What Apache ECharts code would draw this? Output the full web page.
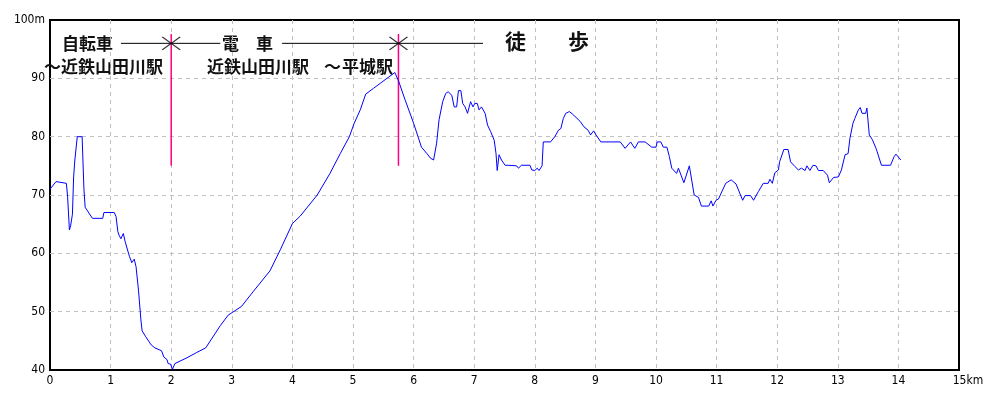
<!DOCTYPE html>
<html>
<head>
<meta charset="utf-8">
<script src="https://cdn.jsdelivr.net/npm/echarts@6/dist/echarts.min.js"></script>
<style>
  html, body { margin: 0; padding: 0; background: #fff; }
  #chart { width: 1000px; height: 400px; }
</style>
</head>
<body>
<div id="chart"></div>
<script>
// 距離 (km) と標高 (m)
const distKm = [
  0.0, 0.02, 0.1, 0.27, 0.29, 0.32, 0.34, 0.37, 0.39, 0.41, 0.45, 0.53, 0.56, 0.58, 0.70, 0.87, 0.89,
  1.06, 1.09, 1.12, 1.14, 1.17, 1.21, 1.24, 1.31, 1.35, 1.39, 1.42, 1.46, 1.50, 1.52, 1.58, 1.61, 1.67,
  1.73, 1.84, 1.88, 1.93, 1.95, 1.99, 2.02, 2.06, 2.26, 2.42, 2.57, 2.81, 2.94, 3.16, 3.35, 3.63, 3.80,
  4.0, 4.13, 4.41, 4.62, 4.79, 4.94, 5.02, 5.12, 5.21, 5.34, 5.69, 5.75, 5.86, 6.0, 6.13, 6.22, 6.28,
  6.33, 6.38, 6.42, 6.48, 6.53, 6.57, 6.63, 6.67, 6.71, 6.74, 6.78, 6.81, 6.85, 6.89, 6.94, 6.98, 7.01,
  7.05, 7.08, 7.12, 7.18, 7.22, 7.27, 7.33, 7.36, 7.38, 7.41, 7.45, 7.51, 7.56, 7.59, 7.70, 7.73, 7.78,
  7.92, 7.95, 8.0, 8.04, 8.07, 8.12, 8.14, 8.26, 8.33, 8.39, 8.43, 8.47, 8.51, 8.57, 8.62, 8.75, 8.81,
  8.88, 8.92, 8.97, 9.01, 9.09, 9.41, 9.49, 9.58, 9.65, 9.71, 9.82, 9.93, 10.0, 10.02, 10.08, 10.12,
  10.18, 10.22, 10.26, 10.34, 10.37, 10.46, 10.55, 10.63, 10.70, 10.75, 10.87, 10.91, 10.94, 10.99,
  11.03, 11.15, 11.24, 11.32, 11.43, 11.47, 11.56, 11.61, 11.69, 11.77, 11.85, 11.88, 11.92, 11.96,
  12.02, 12.04, 12.11, 12.18, 12.22, 12.29, 12.35, 12.40, 12.46, 12.49, 12.54, 12.59, 12.64, 12.68,
  12.76, 12.83, 12.86, 12.93, 13.01, 13.06, 13.12, 13.17, 13.20, 13.25, 13.28, 13.34, 13.37, 13.40,
  13.46, 13.48, 13.52, 13.57, 13.63, 13.65, 13.72, 13.87, 13.93, 13.96, 14.04
]
const elevM = [
  71, 71, 72.3, 72, 69.8, 64, 64.7, 66.7, 73.1, 76, 80, 80, 71, 67.9, 66, 66, 67,
  67, 66.3, 63.7, 63.1, 62.5, 63.4, 62, 59.5, 58.4, 59, 57.7, 53.7, 48.6, 46.7, 45.7, 45.8, 44.3,
  43.8, 43.3, 42.2, 41.8, 41.1, 41, 40.1, 41.1, 42.1, 43, 43.8, 47.6, 49.4, 50.9, 53.4, 57, 60.6,
  65.1, 66.4, 70, 73.7, 77.1, 80, 82.3, 84.6, 87.3, 88.3, 91, 89.6, 86.3, 82.3, 78.2, 77.1, 76.3,
  76, 78.9, 82.9, 86, 87.4, 87.7, 87.1, 85.1, 85.1, 87.9, 87.9, 85.7, 85.1, 84, 86, 85.1, 85.7,
  85.7, 84.6, 85.1, 84, 82, 80.9, 79.4, 77.1, 74.2, 76.9, 76, 75.1, 75.1, 75.4, 75, 74.6, 75.1,
  75.1, 74.3, 74.2, 74.6, 74.2, 75, 79.1, 79.1, 80, 81.1, 81.4, 83.1, 84, 84.3, 83.9, 82.6, 81.7,
  81.1, 80.3, 81, 80.3, 79.1, 79.1, 78, 79.1, 78, 79.1, 79.1, 78.2, 78.2, 79.1, 79.1, 78.2,
  78.2, 76.6, 74.6, 73.7, 74.6, 72.1, 75, 70, 69.6, 68.1, 68.1, 69, 68.1, 69.1,
  69.3, 72, 72.6, 71.9, 69.1, 69.9, 69.9, 69.1, 70.6, 72, 72, 72.7, 72, 73.8,
  74.3, 75.7, 77.8, 77.8, 75.7, 74.9, 74.3, 74.6, 74.2, 75, 74.2, 75.1, 75, 74.2,
  74.2, 73.4, 72.1, 73, 73.1, 74.3, 76.9, 77.1, 79.7, 82.3, 83.1, 84.6, 85, 84,
  84, 84.9, 80.3, 79.5, 78, 77.4, 75.1, 75.1, 76.6, 77, 76
]

// 区間の区切り (乗り換え地点, km)
const breakKm = [2, 5.75]
const breakTop = 97.6
const breakBottom = 75
// 区間表示の横線
const legendLevel = 96
const legendSegs = [[1.17, 2.81], [3.83, 7.145]]

const chart = echarts.init(document.getElementById('chart'))

const profile = distKm.map((d, i) => [d, elevM[i]])

const series = [{
  type: 'line',
  data: profile,
  showSymbol: false,
  symbol: 'none',
  lineStyle: { color: '#0000ff', width: 1 },
  z: 5
}]

breakKm.forEach(k => {
  series.push({
    type: 'line',
    data: [[k, breakBottom], [k, breakTop]],
    symbol: 'none',
    lineStyle: { color: '#ff0080', width: 1.5 },
    z: 4
  })
})

legendSegs.forEach(s => {
  series.push({
    type: 'line',
    data: [[s[0], legendLevel], [s[1], legendLevel]],
    symbol: 'none',
    lineStyle: { color: '#000', width: 1 },
    z: 4
  })
})

series.push({
  type: 'scatter',
  data: breakKm.map(k => [k, legendLevel]),
  symbol: 'path://M0,0L18,13M0,13L18,0',
  symbolSize: [18, 13],
  itemStyle: { color: 'rgba(0,0,0,0)', borderColor: '#000', borderWidth: 1.2 },
  z: 6
})

const cjk = { fontFamily: 'Noto Sans CJK JP', fontWeight: 'bold', fill: '#111' }
function label(text, x, y, size) {
  return { type: 'text', left: x, top: y, style: Object.assign({ text: text, fontSize: size || 17 }, cjk) }
}

const tickFont = 'Liberation Sans Narrow, DejaVu Sans Condensed, sans-serif'

chart.setOption({
  animation: false,
  grid: {
    left: 50, right: 41, top: 20, bottom: 30,
    show: true, borderColor: '#000', borderWidth: 2, backgroundColor: '#fff'
  },
  xAxis: {
    type: 'value', min: 0, max: 15, interval: 1,
    axisLine: { show: false },
    axisTick: { show: false },
    splitLine: { showMinLine: false, showMaxLine: false, lineStyle: { color: '#c0c0c0', type: [4, 4], width: 1 } },
    axisLabel: {
      color: '#000', fontSize: 12, margin: 5, fontFamily: tickFont,
      formatter: v => v === 15 ? '{u|15km}' : String(v),
      rich: { u: { padding: [0, 0, 0, 18], fontSize: 12, color: '#000', fontFamily: tickFont } }
    }
  },
  yAxis: {
    type: 'value', min: 40, max: 100, interval: 10,
    axisLine: { show: false },
    axisTick: { show: false },
    splitLine: { showMinLine: false, showMaxLine: false, lineStyle: { color: '#c0c0c0', type: [4, 4], width: 1 } },
    axisLabel: {
      color: '#000', fontSize: 12, margin: 5, fontFamily: tickFont,
      formatter: v => v === 100 ? '100m' : String(v)
    }
  },
  graphic: [
    label('自転車', 62, 35),
    label('～近鉄山田川駅', 44, 58),
    label('電\u3000車', 222, 35),
    label('近鉄山田川駅', 207, 58),
    label('～', 324, 58),
    label('平城駅', 342, 58),
    label('徒', 505, 31, 21),
    label('歩', 568, 31, 21)
  ],
  series: series
})
</script>
</body>
</html>
